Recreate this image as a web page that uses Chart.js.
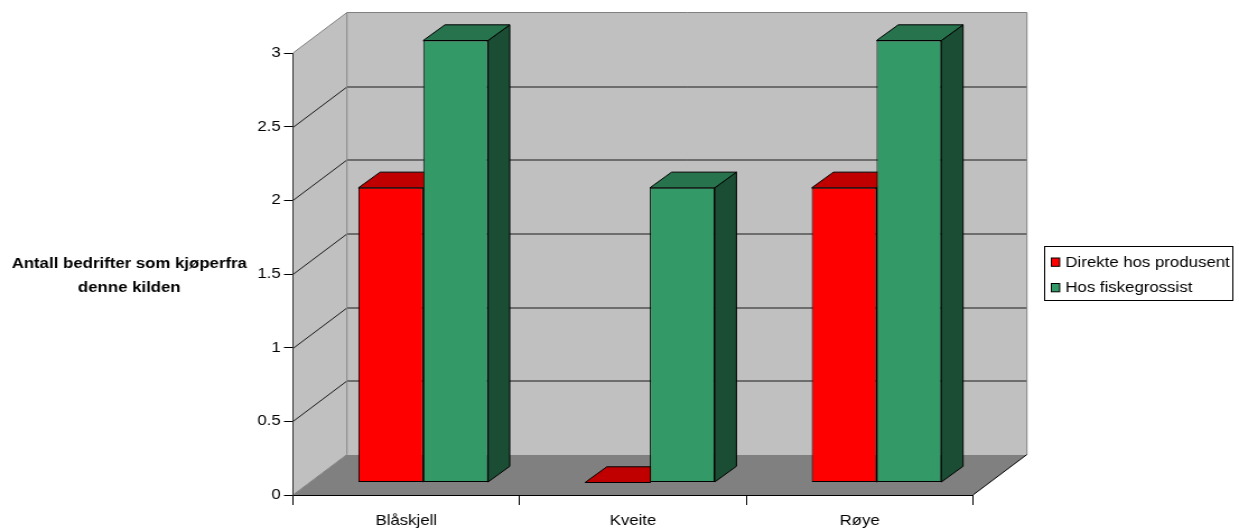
<!DOCTYPE html>
<html lang="no">
<head>
<meta charset="utf-8">
<title>Antall bedrifter som kjøper fra denne kilden</title>
<script src="https://cdn.jsdelivr.net/npm/chart.js@4.4.1/dist/chart.umd.min.js"></script>
<style>
  html, body { margin: 0; padding: 0; background: #ffffff; }
</style>
</head>
<body>
<canvas id="grafico" width="1106" height="528" style="width:1239px;height:528px;display:block"></canvas>
<script>
const kategorier = ["Blåskjell", "Kveite", "Røye"];
const direkteHosProdusent = [2, 0, 2];
const hosFiskegrossist = [3, 2, 3];
const yTickLabels = ["0", "0.5", "1", "1.5", "2", "2.5", "3"];
const serieNavn = ["Direkte hos produsent", "Hos fiskegrossist"];
const aksetittel = ["Antall bedrifter som kjøperfra", "denne kilden"];

// front, top and side colour of each series
const farger = [
  { front: "#ff0000", top: "#c00000", side: "#800000" },
  { front: "#339966", top: "#26734d", side: "#1a4d33" }
];

const FONT = '"Liberation Sans", Arial, sans-serif';

// depth of the box (walls + floor) and of the bars
const wallDepth = { x: 48.2, y: -40.5 };
const barShift = { x: 15.1, y: -12.5 };
const barDepth = { x: 19.4, y: -15.7 };

function polygon(ctx, pts, fill, stroke) {
  ctx.beginPath();
  ctx.moveTo(pts[0][0], pts[0][1]);
  for (let i = 1; i < pts.length; i++) ctx.lineTo(pts[i][0], pts[i][1]);
  ctx.closePath();
  if (fill) {
    ctx.fillStyle = fill;
    ctx.fill();
  }
  if (stroke) {
    ctx.strokeStyle = stroke;
    ctx.lineWidth = 1;
    ctx.stroke();
  }
}

// back wall, side wall, floor and the wall grid lines
const boks3d = {
  id: "boks3d",
  beforeDraw(chart) {
    const { ctx, chartArea: a } = chart;
    const dx = wallDepth.x;
    const dy = wallDepth.y;
    const yScale = chart.scales.y;

    ctx.save();
    polygon(ctx, [[a.left, a.bottom], [a.left + dx, a.bottom + dy], [a.right + dx, a.bottom + dy], [a.right, a.bottom]], "#808080");
    polygon(ctx, [[a.left, a.top], [a.left + dx, a.top + dy], [a.left + dx, a.bottom + dy], [a.left, a.bottom]], "#c0c0c0");
    ctx.fillStyle = "#c0c0c0";
    ctx.fillRect(a.left + dx, a.top + dy, a.right - a.left, a.bottom - a.top);

    ctx.strokeStyle = "#1a1a1a";
    ctx.lineWidth = 1;
    yScale.ticks.forEach((t) => {
      if (t.value <= yScale.min || t.value >= yScale.max) return;
      const py = Math.round(yScale.getPixelForValue(t.value)) + 0.5;
      ctx.beginPath();
      ctx.moveTo(a.left, py);
      ctx.lineTo(a.left + dx, py + dy);
      ctx.lineTo(a.right + dx, py + dy);
      ctx.stroke();
    });

    // wall outlines
    ctx.strokeStyle = "#808080";
    ctx.beginPath();
    ctx.moveTo(a.left, a.top);
    ctx.lineTo(a.left + dx, a.top + dy);
    ctx.lineTo(a.right + dx, a.top + dy);
    ctx.lineTo(a.right + dx, a.bottom + dy);
    ctx.moveTo(a.left + dx, a.top + dy);
    ctx.lineTo(a.left + dx, a.bottom + dy);
    ctx.lineTo(a.left, a.bottom);
    ctx.stroke();

    // front right edge of the floor
    ctx.strokeStyle = "#000000";
    ctx.beginPath();
    ctx.moveTo(a.right, a.bottom);
    ctx.lineTo(a.right + dx, a.bottom + dy);
    ctx.stroke();
    ctx.restore();
  }
};

// tops and sides of the bars, then the fronts are drawn pushed into the box
const soyler3d = {
  id: "soyler3d",
  beforeDatasetsDraw(chart) {
    const ctx = chart.ctx;
    const dx = barDepth.x;
    const dy = barDepth.y;

    ctx.save();
    chart.data.datasets.forEach((ds, i) => {
      chart.getDatasetMeta(i).data.forEach((bar) => {
        const { x, y, base, width } = bar.getProps(["x", "y", "base", "width"], true);
        const l = x - width / 2 + barShift.x;
        const r = x + width / 2 + barShift.x;
        const t = Math.min(y, base) + barShift.y;
        const b = Math.max(y, base) + barShift.y;
        polygon(ctx, [[r, t], [r + dx, t + dy], [r + dx, b + dy], [r, b]], farger[i].side, "#000000");
        polygon(ctx, [[l, t], [l + dx, t + dy], [r + dx, t + dy], [r, t]], farger[i].top, "#000000");
      });
    });
    ctx.restore();

    ctx.save();
    ctx.translate(barShift.x, barShift.y);
  },
  afterDatasetsDraw(chart) {
    chart.ctx.restore();
  }
};

// axis title and legend box
const tekster = {
  id: "tekster",
  afterDraw(chart) {
    const ctx = chart.ctx;
    ctx.save();
    ctx.fillStyle = "#000000";
    ctx.font = "bold 15px " + FONT;
    ctx.textAlign = "center";
    ctx.textBaseline = "alphabetic";
    ctx.fillText(aksetittel[0], 115.4, 268.3);
    ctx.fillText(aksetittel[1], 115.4, 291.7);

    const bx = 932;
    const by = 246;
    ctx.fillStyle = "#ffffff";
    ctx.fillRect(bx, by, 168.5, 54.5);
    ctx.strokeStyle = "#000000";
    ctx.lineWidth = 1;
    ctx.strokeRect(bx + 0.5, by + 0.5, 168, 54);

    ctx.font = "15px " + FONT;
    ctx.textAlign = "left";
    const baselines = [266.5, 292];
    chart.data.datasets.forEach((ds, i) => {
      const yb = baselines[i];
      ctx.fillStyle = ds.backgroundColor;
      ctx.fillRect(938.5, yb - 8.5, 7.4, 8.3);
      ctx.strokeRect(938.5, yb - 8.5, 7.4, 8.3);
      ctx.fillStyle = "#000000";
      ctx.fillText(ds.label, 951, yb);
    });
    ctx.restore();
  }
};

Chart.defaults.font.family = FONT;
Chart.defaults.color = "#000000";

new Chart(document.getElementById("grafico"), {
  type: "bar",
  data: {
    labels: kategorier,
    datasets: [
      {
        label: serieNavn[0],
        data: direkteHosProdusent,
        backgroundColor: farger[0].front,
        borderColor: "#000000",
        borderWidth: 1,
        borderSkipped: false,
        clip: false
      },
      {
        label: serieNavn[1],
        data: hosFiskegrossist,
        backgroundColor: farger[1].front,
        borderColor: "#000000",
        borderWidth: 1,
        borderSkipped: false,
        clip: false
      }
    ]
  },
  options: {
    responsive: false,
    animation: false,
    events: [],
    categoryPercentage: 0.572,
    barPercentage: 1,
    layout: {
      padding: { top: 53, right: 237.5, bottom: 0, left: 0 }
    },
    plugins: {
      legend: { display: false },
      tooltip: { enabled: false }
    },
    scales: {
      x: {
        grid: { offset: true, drawOnChartArea: false, tickLength: 10, color: "#000000" },
        border: { display: true, color: "#000000" },
        ticks: { color: "#000000", font: { size: 15 }, padding: 7, maxRotation: 0 },
        afterFit(scale) {
          scale.height = 33;
        }
      },
      y: {
        min: 0,
        max: 3,
        grid: { drawOnChartArea: false, tickLength: 8, color: "#000000" },
        border: { display: true, color: "#333333" },
        ticks: {
          stepSize: 0.5,
          color: "#000000",
          font: { size: 15 },
          padding: 3,
          callback: (value, index) => yTickLabels[index]
        },
        afterFit(scale) {
          scale.width = 261.5;
        }
      }
    }
  },
  plugins: [boks3d, soyler3d, tekster]
});
</script>
</body>
</html>
